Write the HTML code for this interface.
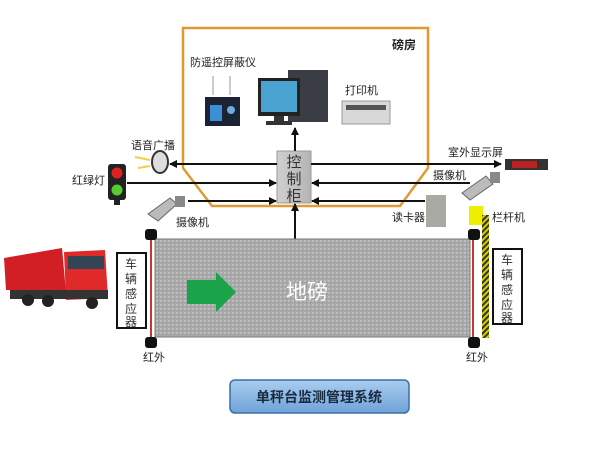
<!DOCTYPE html>
<html><head><meta charset="utf-8"><style>
html,body{margin:0;padding:0;background:#fff;width:600px;height:450px;overflow:hidden}
svg text{font-family:"Liberation Sans","Noto Sans CJK SC",sans-serif}
</style></head><body>
<svg width="600" height="450" viewBox="0 0 600 450" xmlns="http://www.w3.org/2000/svg">
<defs>
<marker id="a" markerWidth="8" markerHeight="8" refX="7" refY="4" orient="auto" markerUnits="userSpaceOnUse"><path d="M0,0 L8,4 L0,8 z" fill="#111"/></marker>
<pattern id="g" width="4" height="4" patternUnits="userSpaceOnUse"><rect width="4" height="4" fill="#a9a9a9"/><rect width="2" height="2" fill="#bcbcbc"/><rect x="2" y="2" width="1" height="1" fill="#8e8e8e"/></pattern>
<pattern id="h" width="4" height="4" patternUnits="userSpaceOnUse" patternTransform="rotate(45)"><rect width="4" height="4" fill="#d8d000"/><rect width="2" height="4" fill="#333"/></pattern>
<linearGradient id="b" x1="0" y1="0" x2="0" y2="1"><stop offset="0" stop-color="#a9cdef"/><stop offset="1" stop-color="#6fa3d8"/></linearGradient>
<linearGradient id="cab" x1="0" y1="0" x2="1" y2="0"><stop offset="0" stop-color="#d0d0d0"/><stop offset="1" stop-color="#b4b4b4"/></linearGradient>
</defs>
<!-- room -->
<path d="M183,28 L428,28 L428,168 L400,206 L212,206 L183,168 Z" fill="none" stroke="#e09a30" stroke-width="2.5"/>
<text x="392" y="49" font-size="12" font-weight="bold" fill="#222">磅房</text>
<text x="190" y="66" font-size="11" fill="#222">防遥控屏蔽仪</text>
<text x="345" y="94" font-size="11" fill="#222">打印机</text>
<!-- jammer -->
<line x1="213" y1="76" x2="213" y2="95" stroke="#ccc" stroke-width="2"/><line x1="230" y1="76" x2="230" y2="95" stroke="#ccc" stroke-width="2"/>
<rect x="205" y="97" width="35" height="29" fill="#1a2233"/><rect x="210" y="105" width="12" height="16" fill="#3b8fd6"/><circle cx="231" cy="110" r="4" fill="#6aaedc"/>
<!-- pc -->
<rect x="288" y="70" width="40" height="52" fill="#3a3d44"/>
<rect x="258" y="78" width="42" height="38" fill="#222"/><rect x="261" y="81" width="36" height="31" fill="#4aa3d0"/>
<rect x="274" y="116" width="10" height="6" fill="#333"/><rect x="266" y="121" width="26" height="4" fill="#333"/>
<!-- printer -->
<rect x="342" y="101" width="48" height="23" fill="#d8d8d8" stroke="#999"/><rect x="346" y="105" width="40" height="5" fill="#555"/>
<!-- cabinet -->
<rect x="277" y="151" width="34" height="52" fill="url(#cab)" stroke="#999"/>
<text x="294" y="167" font-size="15" text-anchor="middle" fill="#333">控</text>
<text x="294" y="184" font-size="15" text-anchor="middle" fill="#333">制</text>
<text x="294" y="201" font-size="15" text-anchor="middle" fill="#333">柜</text>
<!-- arrows -->
<g stroke="#111" stroke-width="2" fill="none">
<line x1="295" y1="151" x2="295" y2="128" marker-end="url(#a)"/>
<line x1="295" y1="239" x2="295" y2="204" marker-end="url(#a)"/>
<line x1="277" y1="164" x2="170" y2="164" marker-end="url(#a)"/>
<line x1="311" y1="164" x2="501" y2="164" marker-end="url(#a)"/>
<line x1="127" y1="183" x2="276" y2="183" marker-end="url(#a)"/>
<line x1="470" y1="183" x2="312" y2="183" marker-end="url(#a)"/>
<line x1="188" y1="201" x2="276" y2="201" marker-end="url(#a)"/>
<line x1="425" y1="201" x2="312" y2="201" marker-end="url(#a)"/>
</g>
<!-- left devices -->
<text x="131" y="149" font-size="11" fill="#222">语音广播</text>
<ellipse cx="160" cy="162" rx="8" ry="11" fill="#ddd" stroke="#333" stroke-width="2"/>
<path d="M135,157 L150,160 M138,168 L150,166" stroke="#f0d040" stroke-width="2"/>
<text x="72" y="184" font-size="11" fill="#222">红绿灯</text>
<rect x="108" y="164" width="18" height="36" rx="3" fill="#222"/><circle cx="117" cy="173" r="5.5" fill="#d22"/><circle cx="117" cy="190" r="5.5" fill="#5c3"/><rect x="114" y="199" width="6" height="6" fill="#222"/>
<path d="M148,214 L170,198 L177,204 L158,221 Z" fill="#bbb" stroke="#666"/><rect x="175" y="196" width="10" height="11" fill="#888"/>
<text x="176" y="226" font-size="11" fill="#222">摄像机</text>
<!-- right devices -->
<text x="448" y="156" font-size="11" fill="#222">室外显示屏</text>
<rect x="505" y="159" width="43" height="11" fill="#333"/><rect x="512" y="161" width="25" height="7" fill="#b22"/>
<text x="433" y="179" font-size="11" fill="#222">摄像机</text>
<path d="M462,193 L486,176 L493,184 L470,200 Z" fill="#bbb" stroke="#666"/><rect x="490" y="172" width="10" height="11" fill="#888"/>
<text x="392" y="221" font-size="11" fill="#222">读卡器</text>
<rect x="426" y="195" width="20" height="32" fill="#a9aaa4"/>
<text x="492" y="221" font-size="11" fill="#222">栏杆机</text>
<rect x="469" y="206" width="14" height="19" fill="#ee0"/>
<rect x="482" y="215" width="7" height="123" fill="url(#h)"/>
<!-- scale -->
<rect x="155" y="239" width="315" height="98" fill="url(#g)" stroke="#777"/>
<path d="M187,280 L216,280 L216,272 L236,292 L216,312 L216,304 L187,304 Z" fill="#1aa34a"/>
<text x="307" y="299" font-size="21" text-anchor="middle" fill="#fff">地磅</text>
<line x1="151" y1="236" x2="151" y2="340" stroke="#c33" stroke-width="2"/>
<line x1="473" y1="236" x2="473" y2="340" stroke="#c33" stroke-width="2"/>
<rect x="145" y="229" width="12" height="11" rx="3" fill="#111"/><rect x="145" y="337" width="12" height="11" rx="3" fill="#111"/>
<rect x="468" y="229" width="12" height="11" rx="3" fill="#111"/><rect x="468" y="337" width="12" height="11" rx="3" fill="#111"/>
<text x="143" y="361" font-size="11" fill="#222">红外</text>
<text x="466" y="361" font-size="11" fill="#222">红外</text>
<rect x="117" y="253" width="29" height="75" fill="#fff" stroke="#111" stroke-width="2"/>
<g font-size="12" fill="#333" text-anchor="middle"><text x="131" y="268">车</text><text x="131" y="283">辆</text><text x="131" y="298">感</text><text x="131" y="313">应</text><text x="131" y="326">器</text></g>
<rect x="493" y="249" width="29" height="75" fill="#fff" stroke="#111" stroke-width="2"/>
<g font-size="12" fill="#333" text-anchor="middle"><text x="507" y="264">车</text><text x="507" y="279">辆</text><text x="507" y="294">感</text><text x="507" y="309">应</text><text x="507" y="322">器</text></g>
<!-- truck -->
<path d="M4,258 L62,248 L66,292 L6,290 Z" fill="#d21f25"/>
<path d="M64,252 L105,250 L108,298 L66,300 Z" fill="#e02a2a"/><rect x="68" y="256" width="36" height="13" fill="#345"/>
<rect x="10" y="290" width="98" height="9" fill="#333"/>
<circle cx="28" cy="300" r="6" fill="#222"/><circle cx="48" cy="301" r="6" fill="#222"/><circle cx="92" cy="303" r="6" fill="#222"/>
<!-- title -->
<rect x="230" y="380" width="179" height="33" rx="5" fill="url(#b)" stroke="#3a6ea5" stroke-width="1.5"/>
<text x="319" y="402" font-size="14" font-weight="bold" text-anchor="middle" fill="#1a2a40">单秤台监测管理系统</text>
</svg>
</body></html>
